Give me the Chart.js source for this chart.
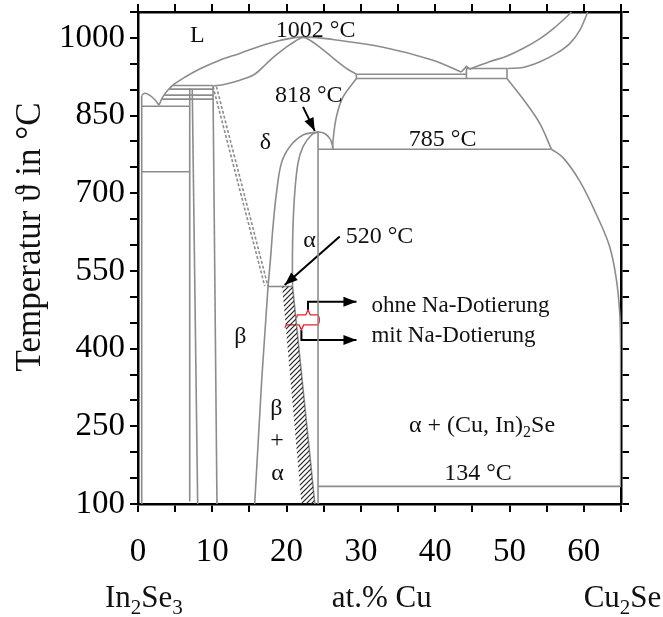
<!DOCTYPE html>
<html>
<head>
<meta charset="utf-8">
<title>In2Se3 - Cu2Se</title>
<script src="https://cdn.jsdelivr.net/npm/chart.js@4.4.0/dist/chart.umd.min.js"></script>
<style>
  html, body { margin: 0; padding: 0; background: #fff; }
</style>
</head>
<body>
<canvas id="phase" width="663" height="617"></canvas>
<script>
// phase boundaries, [at.% Cu, temperature in °C]
const dome          = [[0.5,889],[0.9,893],[1.6,889],[2.3,880],[2.83,870]];
const liquidus      = [[2.83,870],[3.3,885],[4.0,899],[4.9,911],[6.3,924],[8.3,940],[11.0,957],[13.7,970],[16.4,984],[19.1,995],[22.2,1002],
                       [26.2,997],[33.0,982],[39.7,957],[43.5,934]];
const bump          = [[43.5,934],[44.2,945],[44.64,939.5]];
const liquidusCu    = [[44.64,939.5],[47.3,954],[49.6,964.6],[51.8,979.4],[54.1,998.7],[55.9,1018],[57.9,1043.7],[58.3,1050]];
const upperCu       = [[49.8,940.9],[51.8,943],[54.1,954],[56.3,970],[58.1,989],[59.45,1014.7],[60.35,1043.7],[60.5,1050]];
const solidus       = [[10.1,906.7],[11.7,910.6],[13.7,918.3],[15.7,929.8],[17.3,950.5],[18.4,964.6],[20.0,982.5],[21.1,993],[22.2,1001],
                       [23.1,996],[24.45,982],[25.8,966.5],[27.15,951],[28.23,939.5],[29.39,929.8]];
const plateauTop    = [[29.39,929.8],[44.2,929.8]];
const plateauBase   = [[29.39,921.6],[49.66,921.6]];
const plateauSide   = [[29.39,929.8],[29.39,921.6]];
const cuBox         = [[44.2,921.6],[44.2,940.9],[49.66,940.9],[49.66,921.6]];
const deltaOuter    = [[29.39,921.6],[27.6,886],[26.7,847.5],[26.25,802.6],[26.2,785]];
const arc818        = [[24.23,818.6],[25.13,815.5],[25.8,805.9],[26.16,793],[26.2,785]];
const deltaLeft     = [[24.23,818.6],[22.21,812.5],[20.42,790],[19.3,758.2],[18.63,700.4],[18.17,636],[17.82,571.8],[17.5,520]];
const alphaLeft     = [[24.23,818.6],[23.34,812.5],[22.21,790],[21.53,758],[21.09,700],[20.86,636],[20.78,572],[20.8,520]];
const alphaLow      = [[20.8,520],[23.8,100]];
const alphaRight    = [[24.23,818.6],[24.23,100]];
const line785       = [[24.23,785],[55.64,785]];
const cuUpper       = [[49.66,921.6],[52.27,873.4],[54.07,834.8],[55.64,785]];
const cuLower       = [[55.64,785],[57.2,768.8],[59.45,723.3],[61.69,659],[63.48,596.8],[64.39,532.5],[64.83,468.2],[64.95,404]];
const cuWall        = [[64.95,404],[64.95,134]];
const line134       = [[24.23,134],[65,134]];
const betaLeft      = [[17.5,520],[16.65,340],[15.7,100]];
const line520       = [[17.5,520],[20.8,520]];
const dashA         = [[10.1,906],[17.05,521]];
const dashB         = [[10.55,906],[17.5,520]];
const wall          = [[0.5,889],[0.5,100]];
const boxTop        = [[0.5,868],[6.96,868]];
const boxBottom     = [[0.5,741.5],[6.96,741.5]];
const vert1         = [[6.96,903],[6.96,105]];
const vert2         = [[7.3,901],[8.03,100]];
const vert3         = [[10.09,906.7],[10.63,100]];
const tie1          = [[4.7,908],[10.09,908]];
const tie2          = [[4.16,901],[10.09,901]];
const tie3          = [[3.53,889.4],[10.09,889.4]];
const tie4          = [[3.21,881.7],[10.09,881.7]];
const hatchBand     = [[19.4,520],[20.8,520],[23.8,100],[22.0,100],[19.4,520]];
const brace         = [[21.32,458.7],[21.45,465],[22.57,465],[22.88,474.6],[23.19,465],[24.23,465],[24.39,459.3],[24.39,451.6],[24.23,445.8],[22.3,445.8],[21.99,436.2],[21.68,445.8],[20.01,445.8],[19.74,440.5]];
const arrowOhne     = [[22.88,474.6],[22.88,490.7],[29.4,490.7]];
const arrowMit      = [[21.99,436.2],[21.99,416.9],[29.4,416.9]];
const arrow818      = [[22.21,866.8],[23.78,820.5]];
const arrow520      = [[27.15,616.5],[19.74,523.1]];

// labels inside the diagram (centre x, baseline y)
const noteText = ['L', '1002 °C', '818 °C', 'δ', '785 °C', 'α', '520 °C', 'β', 'β', '+', 'α', '134 °C'];
const noteX    = [7.97, 23.9, 22.97, 17.15, 41.0, 23.1, 32.5, 13.78, 18.63, 18.7, 18.78, 45.76];
const noteY    = [992, 1001.8, 876.4, 785, 791.6, 596.8, 604, 410.5, 272.2, 211, 146.9, 146.9];
const legendText = ['ohne Na-Dotierung', 'mit Na-Dotierung'];
const legendX    = [31.41, 31.41];
const legendY    = [470.3, 413.6];

const FONT = "'Liberation Serif', 'Times New Roman', serif";
const GREY = '#8c8c8c';
const INK = '#111';

function hatch() {
  const c = document.createElement('canvas');
  c.width = 5; c.height = 5;
  const g = c.getContext('2d');
  g.strokeStyle = '#222';
  g.lineWidth = 1.2;
  g.beginPath();
  g.moveTo(0, 5); g.lineTo(5, 0);
  g.moveTo(-1, 1); g.lineTo(1, -1);
  g.moveTo(4, 6); g.lineTo(6, 4);
  g.stroke();
  return g.createPattern(c, 'repeat');
}

function line(pts, extra) {
  return Object.assign({
    data: pts.map(p => ({x: p[0], y: p[1]})),
    showLine: true,
    borderColor: GREY,
    borderWidth: 1.6,
    pointRadius: 0,
    tension: 0,
    fill: false
  }, extra || {});
}

const curved = {tension: 0.35};
const ink = {borderColor: '#000', borderWidth: 2};

const datasets = [
  line(hatchBand, {borderWidth: 0, fill: 'shape', backgroundColor: hatch()}),
  line(dome, curved), line(liquidus, curved), line(bump),
  line(liquidusCu, curved), line(upperCu, curved), line(solidus, curved),
  line(plateauTop), line(plateauBase), line(plateauSide), line(cuBox),
  line(deltaOuter, curved), line(arc818, curved), line(deltaLeft, curved), line(alphaLeft, curved),
  line(alphaLow), line(alphaRight), line(line785), line(cuUpper, curved), line(cuLower, curved), line(cuWall),
  line(line134), line(betaLeft), line(line520),
  line(dashA, {borderDash: [3, 2]}), line(dashB, {borderDash: [3, 2]}),
  line(wall), line(boxTop), line(boxBottom), line(vert1), line(vert2), line(vert3),
  line(tie1), line(tie2), line(tie3), line(tie4),
  line(brace, {borderColor: '#e8202a', borderWidth: 1.3}),
  line(arrowOhne, ink), line(arrowMit, ink), line(arrow818, ink), line(arrow520, ink)
];

function head(ctx, x1, y1, x2, y2) {
  const a = Math.atan2(y2 - y1, x2 - x1), len = 13, w = 5;
  ctx.beginPath();
  ctx.moveTo(x2, y2);
  ctx.lineTo(x2 - len * Math.cos(a) + w * Math.sin(a), y2 - len * Math.sin(a) - w * Math.cos(a));
  ctx.lineTo(x2 - len * Math.cos(a) - w * Math.sin(a), y2 - len * Math.sin(a) + w * Math.cos(a));
  ctx.closePath();
  ctx.fill();
}

// text made of runs, some of them subscripts
function runs(ctx, parts, x, base, size, align) {
  const small = Math.round(size * 0.68);
  let total = 0;
  parts.forEach(p => {
    ctx.font = (p.sub ? small : size) + 'px ' + FONT;
    total += ctx.measureText(p.t).width;
  });
  let cx = align === 'left' ? x : x - total / 2;
  ctx.textAlign = 'left';
  parts.forEach(p => {
    ctx.font = (p.sub ? small : size) + 'px ' + FONT;
    ctx.fillText(p.t, cx, p.sub ? base + size * 0.22 : base);
    cx += ctx.measureText(p.t).width;
  });
}

const decor = {
  id: 'decor',
  afterDatasetsDraw(chart) {
    const {ctx, chartArea} = chart;
    const sx = chart.scales.x, sy = chart.scales.y;
    const px = v => sx.getPixelForValue(v), py = v => sy.getPixelForValue(v);
    ctx.save();
    ctx.fillStyle = '#000';
    [arrowOhne, arrowMit, arrow818, arrow520].forEach(a => {
      const p = a[a.length - 2], q = a[a.length - 1];
      head(ctx, px(p[0]), py(p[1]), px(q[0]), py(q[1]));
    });

    ctx.fillStyle = INK;
    ctx.textBaseline = 'alphabetic';
    ctx.textAlign = 'center';
    ctx.font = '24px ' + FONT;
    noteText.forEach((t, i) => ctx.fillText(t, px(noteX[i]), py(noteY[i])));
    runs(ctx, [{t: 'α + (Cu, In)'}, {t: '2', sub: true}, {t: 'Se'}], px(46.3), py(238.9), 24);
    ctx.textAlign = 'left';
    ctx.font = '23px ' + FONT;
    legendText.forEach((t, i) => ctx.fillText(t, px(legendX[i]), py(legendY[i])));

    // axis titles
    const base = chartArea.bottom + 103;
    runs(ctx, [{t: 'In'}, {t: '2', sub: true}, {t: 'Se'}, {t: '3', sub: true}], px(0.8), base, 31);
    runs(ctx, [{t: 'at.% Cu'}], px(32.8), base, 31);
    runs(ctx, [{t: 'Cu'}, {t: '2', sub: true}, {t: 'Se'}], px(65.2), base, 31);

    ctx.translate(31, 237);
    ctx.rotate(-Math.PI / 2);
    ctx.textAlign = 'center';
    ctx.textBaseline = 'middle';
    ctx.font = '35px ' + FONT;
    ctx.fillText('Temperatur ϑ in °C', 0, 0);
    ctx.restore();
  }
};

const tickGrid = {drawOnChartArea: false, drawTicks: true, tickLength: 8, color: '#000', lineWidth: 2};
const axisBorder = {color: '#000', width: 2.5};
const noPad = s => { s.paddingTop = 0; s.paddingBottom = 0; s.paddingLeft = 0; s.paddingRight = 0; };

new Chart(document.getElementById('phase'), {
  type: 'scatter',
  data: {datasets: datasets},
  options: {
    responsive: false,
    animation: false,
    layout: {padding: 0},
    plugins: {legend: {display: false}, tooltip: {enabled: false}},
    scales: {
      x: {
        type: 'linear', position: 'bottom', min: 0, max: 65,
        ticks: {stepSize: 5, autoSkip: false, maxRotation: 0, padding: 21, color: '#000',
                font: {family: FONT, size: 33}, callback: v => v % 10 === 0 ? v : ''},
        grid: tickGrid, border: axisBorder,
        afterFit: s => { noPad(s); s.height = 113; }
      },
      x2: {
        type: 'linear', axis: 'x', position: 'top', min: 0, max: 65,
        ticks: {stepSize: 5, autoSkip: false, display: false},
        grid: tickGrid, border: axisBorder,
        afterFit: s => { noPad(s); s.height = 12; }
      },
      y: {
        type: 'linear', position: 'left', min: 100, max: 1050,
        ticks: {stepSize: 50, autoSkip: false, padding: 5, color: '#000',
                font: {family: FONT, size: 33}, callback: v => (v - 100) % 150 === 0 ? v : ''},
        grid: tickGrid, border: axisBorder,
        afterFit: s => { noPad(s); s.width = 138; }
      },
      y2: {
        type: 'linear', axis: 'y', position: 'right', min: 100, max: 1050,
        ticks: {stepSize: 50, autoSkip: false, display: false},
        grid: tickGrid, border: axisBorder,
        afterFit: s => { noPad(s); s.width = 42; }
      }
    }
  },
  plugins: [decor]
});
</script>
</body>
</html>
